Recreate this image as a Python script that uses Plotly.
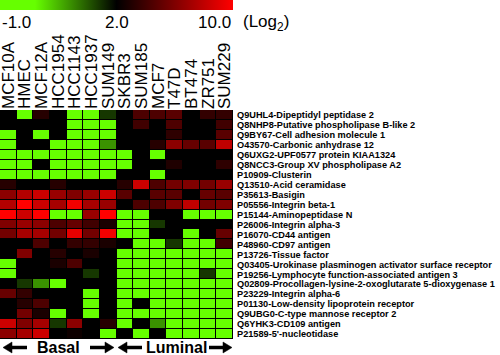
import numpy as np
import plotly.graph_objects as go

# Cell lines (columns)
cell_lines = ["MCF10A", "HMEC", "MCF12A", "HCC1954", "HCC1143", "HCC1937", "SUM149",
              "SKBR3", "SUM185", "MCF7", "T47D", "BT474", "ZR751", "SUM229"]

# Proteins (rows, top to bottom)
proteins = [
    "Q9UHL4-Dipeptidyl peptidase 2",
    "Q8NHP8-Putative phospholipase B-like 2",
    "Q9BY67-Cell adhesion molecule 1",
    "O43570-Carbonic anhydrase 12",
    "Q6UXG2-UPF0577 protein KIAA1324",
    "Q8NCC3-Group XV phospholipase A2",
    "P10909-Clusterin",
    "Q13510-Acid ceramidase",
    "P35613-Basigin",
    "P05556-Integrin beta-1",
    "P15144-Aminopeptidase N",
    "P26006-Integrin alpha-3",
    "P16070-CD44 antigen",
    "P48960-CD97 antigen",
    "P13726-Tissue factor",
    "Q03405-Urokinase plasminogen activator surface receptor",
    "P19256-Lymphocyte function-associated antigen 3",
    "Q02809-Procollagen-lysine-2-oxoglutarate 5-dioxygenase 1",
    "P23229-Integrin alpha-6",
    "P01130-Low-density lipoprotein receptor",
    "Q9UBG0-C-type mannose receptor 2",
    "Q6YHK3-CD109 antigen",
    "P21589-5'-nucleotidase",
]

# Relative expression (display units: -1 = green, 0 = black, +1 = red), one list per cell line
MCF10A  = [0, 0, -1, -1, -1, -1, -1, 0.15, 0.55, 0.7, 1.0, 0.5, 0.45, 0, 0, -1, -1, 0, 0.4, 0, 0, 0.8, 0.55]
HMEC    = [-1, 0, 0, 0, -1, -1, -1, 0, 0.7, 1.0, 0.8, 0.6, 0.65, 0, 0.5, 0, 0, -0.15, 0.2, 0.15, 0.45, 0.5, 0.65]
MCF12A  = [0.15, 0, -1, 0, -1, 0, -1, 0, 0.8, 0.8, 1.0, 0.55, 0.65, 0.3, 0, 0, 0, -0.4, 0, 0.3, 0.1, 0.65, 0.8]
HCC1954 = [0, 0, 0, -1, -1, -1, -1, 0.15, 0.6, 0.65, -1, 0.3, 0.45, 0, 0.15, 0.1, 0, -1, 0, 0, -1, -0.15, 0]
HCC1143 = [-1, -1, -1, -1, -1, -1, -1, 0, 0.5, 0.95, -1, 0.4, 0.9, 0.2, 0, 0.3, 0, 0, 0, 0, 0, 0.55, 0.05]
HCC1937 = [-1, -1, -1, -1, -1, -1, -1, 0, 0.6, 0.65, 0.6, 0.25, 0.45, 0.2, 0.1, 0, -0.15, 0, -1, -1, -1, 0, 0]
SUM149  = [-0.15, -1, -1, -0.4, -1, -1, -1, 0, 0.8, 0.6, 1.0, 0.1, 0.95, 0.1, 0, 0, 0, 0, 0, 0, 0, 0.15, -1]
SKBR3   = [0, 0, 0, 0, -1, -1, 0, 0.15, 0.35, 0, -1, -1, -1, 0, -1, -1, -1, -1, -1, -1, -1, -1, 0]
SUM185  = [0.3, 0.25, 0, 0, 0, 0, 0, 0.8, 0, 0.3, -1, -1, -1, -1, -1, -1, -1, -1, -1, 0, -1, 0, -1]
MCF7    = [0.3, 0, 0, 0.15, -1, 0, -1, 0.3, 0.35, 0.3, 0, -0.15, 0, -1, -1, -1, -1, -1, -1, -1, -1, -0.4, 0]
T47D    = [0.35, 0.3, 0.18, 0.55, 0, 0.12, 0, 0.45, 0.35, 0.5, 0, 0, 0, -0.15, -1, -1, -1, -1, -1, -1, -1, -1, -1]
BT474   = [0, 0, 0, 0.4, 0, 0, 0, 0.5, 0, 0.75, -1, 0, -1, -1, -1, -1, -1, -1, -1, -1, -1, -1, -1]
ZR751   = [0.2, 0, 0, 0.35, 0, 0, 0, 0.45, 0.4, 0.45, -1, 0, 0, -1, -1, -1, -0.15, -1, -1, -1, -1, -1, -1]
SUM229  = [0.2, 0.25, 0.35, 0.75, 0, 0.18, 0, 0.6, 0.35, 0.5, -1, 0, 0.4, 0.25, -1, -1, -1, -1, -1, -1, -1, -1, -1]

colorbar_ticks = ["-1.0", "2.0", "10.0"]
groups = ["Basal", "Luminal"]

columns = [MCF10A, HMEC, MCF12A, HCC1954, HCC1143, HCC1937, SUM149,
           SKBR3, SUM185, MCF7, T47D, BT474, ZR751, SUM229]
z = np.array(columns).T

W, H = 500, 355
ML, MR, MT, MB = 0, 0, 110, 16
PW, PH = W - ML - MR, H - MT - MB
HM_W = 233.0

def px(x):
    return (x - ML) / PW

def py(y):
    return (H - MB - y) / PH

GREEN = "rgb(102,255,0)"
colorscale = [[0.0, GREEN], [0.15, GREEN], [0.5, "rgb(0,0,0)"], [1.0, "rgb(255,0,0)"]]

fig = go.Figure(go.Heatmap(
    z=z, x=cell_lines, y=proteins,
    zmin=-1, zmax=1, colorscale=colorscale,
    xgap=1, ygap=1, hoverinfo="skip",
    colorbar=dict(orientation="h", xref="container", yref="container",
                  x=0, xanchor="left", y=1, yanchor="top",
                  len=HM_W, lenmode="pixels", thickness=10,
                  xpad=0, ypad=0, outlinewidth=0,
                  showticklabels=False, ticks=""),
))

FONT = "Liberation Sans, Arial, sans-serif"
fig.update_layout(
    width=W, height=H,
    margin=dict(l=ML, r=MR, t=MT, b=MB, autoexpand=False),
    paper_bgcolor="white", plot_bgcolor="black",
    font=dict(family=FONT, color="black"),
    xaxis=dict(domain=[0, px(HM_W)], side="top", tickangle=-90,
               tickmode="array", tickvals=cell_lines, ticktext=cell_lines,
               tickfont=dict(size=17, family=FONT), showgrid=False, automargin=False,
               zeroline=False, ticks="", showline=False),
    yaxis=dict(autorange="reversed", side="right", showgrid=False, automargin=False,
               tickmode="array", tickvals=proteins, ticktext=proteins,
               zeroline=False, ticks="", showline=False, ticklabelstandoff=3,
               tickfont=dict(size=9.2, family=FONT, weight="bold")),
    showlegend=False,
)

ann = []
# colorbar tick labels
ty = py(23)
ann.append(dict(x=px(0), y=ty, xref="paper", yref="paper", text=colorbar_ticks[0],
                xanchor="left", yanchor="middle", showarrow=False, font=dict(size=17)))
ann.append(dict(x=px(HM_W / 2), y=ty, xref="paper", yref="paper", text=colorbar_ticks[1],
                xanchor="center", yanchor="middle", showarrow=False, font=dict(size=17)))
ann.append(dict(x=px(HM_W), y=ty, xref="paper", yref="paper", text=colorbar_ticks[2],
                xanchor="right", yanchor="middle", showarrow=False, font=dict(size=17)))
ann.append(dict(x=px(241), y=ty, xref="paper", yref="paper", text="(Log<sub>2</sub>)",
                xanchor="left", yanchor="middle", showarrow=False, font=dict(size=17)))

# group labels
gy_text = py(336.5)
ann.append(dict(x=px(58), y=gy_text, xref="paper", yref="paper", text="<b>%s</b>" % groups[0],
                xanchor="center", yanchor="top", showarrow=False, font=dict(size=16)))
ann.append(dict(x=px(176), y=gy_text, xref="paper", yref="paper", text="<b>%s</b>" % groups[1],
                xanchor="center", yanchor="top", showarrow=False, font=dict(size=16)))

# thick arrows as shapes
ARROW_Y = 347.5
gy = py(ARROW_Y)
shapes = []
for head, tail in [(3, 27), (114, 90), (118, 142), (232, 209)]:
    d = 1 if tail > head else -1
    base = head + d * 9
    shapes.append(dict(type="line", xref="paper", yref="paper",
                       x0=px(tail), x1=px(base), y0=gy, y1=gy,
                       line=dict(color="black", width=3.5)))
    path = "M %f,%f L %f,%f L %f,%f Z" % (px(head), gy, px(base), py(ARROW_Y - 5.5),
                                          px(base), py(ARROW_Y + 5.5))
    shapes.append(dict(type="path", xref="paper", yref="paper", path=path,
                       fillcolor="black", line=dict(color="black", width=0.5)))

fig.update_layout(annotations=ann, shapes=shapes)
fig.write_html("out.html")
